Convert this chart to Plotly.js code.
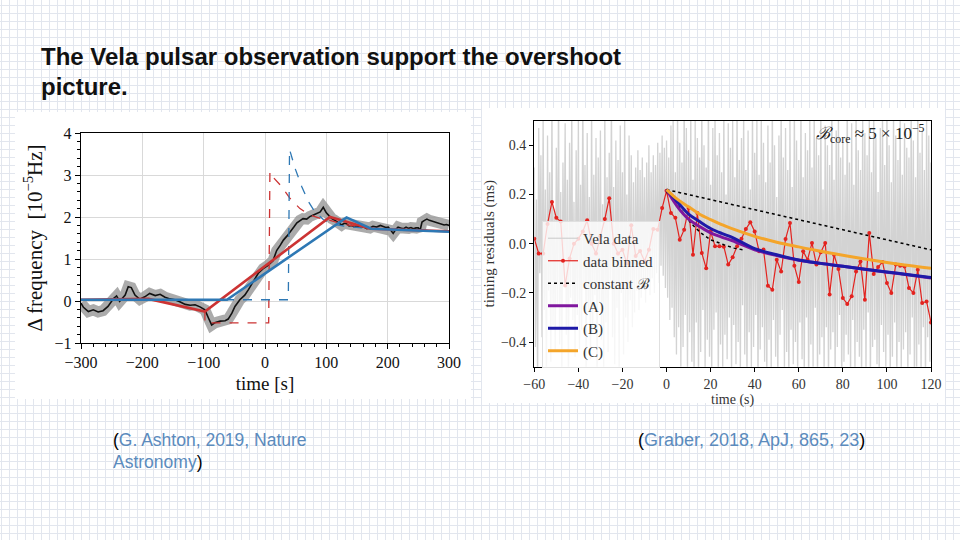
<!DOCTYPE html>
<html>
<head>
<meta charset="utf-8">
<script src="https://cdn.plot.ly/plotly-3.0.1.min.js"></script>
<style>
html, body { margin:0; padding:0; }
body {
  width:960px; height:540px; overflow:hidden;
  background-color:#ffffff;
  background-image: linear-gradient(to right, #e2e6ee 1px, transparent 1px),
                    linear-gradient(to bottom, #e2e6ee 1px, transparent 1px);
  background-size: 8px 8px;
  background-position: 1px 5px;
}
#chart { width:960px; height:540px; }
</style>
</head>
<body>
<div id="chart"></div>
<script>
// ---------- Left panel (Ashton 2019): Δ frequency vs time ----------
const ashtonTime = [
  -300,-296,-288,-280,-272,-264,-256,-247,-242,-237,
  -228,-223,-218,-212,-204,-196,-188,-179,-171,-163,
  -155,-147,-139,-130,-122,-114,-106,-98,-92,-87,
  -82,-73,-65,-60,-54,-49,-41,-33,-27,-19,
  -11,-3,5,13,19,25,30,36,41,47,
  52,57,62,68,73,79,84,90,95,100,
  105,109,113,117,121,125,129,133,137,141,
  145,150,155,160,166,171,176,182,188,193,
  197,201,205,209,213,217,221,226,230,234,
  238,242,246,250,253,256,260,264,268,272,
  276,280,284,288,292,296,300
];
const ashtonFreq = [
  -0.05,-0.15,-0.25,-0.21,-0.26,-0.23,-0.13,0.06,0.12,-0.01,
  0.14,0.34,0.32,0.14,0.04,0.10,0.18,0.13,0.16,0.09,
  0.05,0.03,-0.02,-0.08,-0.10,-0.09,-0.14,-0.21,-0.41,-0.57,
  -0.52,-0.48,-0.47,-0.43,-0.29,-0.13,0.03,0.14,0.27,0.48,
  0.66,0.77,0.85,0.96,1.20,1.33,1.45,1.55,1.66,1.76,
  1.86,1.92,1.96,1.95,2.01,2.05,2.09,2.12,2.23,2.10,
  2.02,1.96,1.93,1.89,1.84,1.81,1.85,1.84,1.79,1.80,
  1.77,1.79,1.76,1.77,1.72,1.74,1.78,1.76,1.80,1.78,
  1.75,1.76,1.68,1.61,1.70,1.76,1.74,1.72,1.76,1.73,
  1.75,1.72,1.74,1.74,1.69,1.88,1.92,1.95,1.92,1.90,
  1.88,1.87,1.85,1.83,1.81,1.82,1.80
];
const redFitTime = [-300,-190,-98,106,172,300];
const redFitFreq = [0.03,0.05,-0.25,2.0,1.72,1.66];
const blueFitTime = [-300,-62,133,173,300];
const blueFitFreq = [0.03,0.03,1.99,1.72,1.65];
const redDashTime = [-98,-98,6,8,13,25,41,57,73,90,106,130,171,220,300];
const redDashFreq = [-0.25,-0.52,-0.52,3.08,2.95,2.76,2.44,2.2,2.05,1.97,1.92,1.82,1.74,1.69,1.67];
const blueDashTime = [-300,38,40,49,60,71,81.5,95,111,133,171,220,300];
const blueDashFreq = [0.03,0.03,3.61,3.16,2.72,2.36,2.12,1.94,1.83,1.77,1.73,1.69,1.66];

// ---------- Right panel (Graber 2018): timing residuals ----------
const velaT0 = -60;      // first sample time (s)
const velaDt = 0.5;      // sample spacing (s)
const velaResid = [
  0.31,-0.42,0.18,-0.55,0.47,-0.12,0.36,-0.38,0.52,-0.27,0.22,-0.61,0.44,-0.19,0.29,-0.48,0.58,-0.33,0.14,-0.44,
  0.39,-0.25,0.62,-0.41,0.21,-0.53,0.33,-0.16,0.49,-0.37,0.26,-0.58,0.41,-0.22,0.55,-0.31,0.17,-0.46,0.38,-0.29,
  0.51,-0.43,0.24,-0.35,0.63,-0.18,0.32,-0.52,0.45,-0.28,0.19,-0.47,0.57,-0.36,0.28,-0.21,0.43,-0.59,0.35,-0.24,
  0.46,-0.39,0.16,-0.51,0.54,-0.32,0.27,-0.44,0.37,-0.15,0.6,-0.38,0.23,-0.49,0.42,-0.26,0.34,-0.57,0.48,-0.2,
  0.29,-0.45,0.53,-0.3,0.2,-0.4,0.44,-0.23,0.36,-0.34,0.25,-0.28,0.31,-0.19,0.38,-0.27,0.3,-0.22,0.35,-0.18,
  0.27,-0.24,0.33,-0.17,0.4,-0.21,0.29,-0.14,0.36,-0.2,0.32,-0.12,0.41,-0.16,0.37,-0.09,0.44,-0.13,0.39,-0.18,
  0.42,-0.22,0.35,-0.31,0.48,-0.26,0.52,-0.38,0.29,-0.45,0.56,-0.34,0.41,-0.5,0.33,-0.42,0.6,-0.29,0.47,-0.53,
  0.38,-0.36,0.55,-0.48,0.26,-0.57,0.5,-0.32,0.43,-0.61,0.35,-0.44,0.58,-0.27,0.4,-0.52,0.31,-0.39,0.62,-0.46,
  0.24,-0.55,0.47,-0.35,0.53,-0.28,0.36,-0.6,0.45,-0.41,0.29,-0.5,0.57,-0.37,0.2,-0.47,0.49,-0.3,0.39,-0.56,
  0.51,-0.33,0.27,-0.49,0.6,-0.4,0.34,-0.54,0.43,-0.25,0.55,-0.45,0.3,-0.58,0.46,-0.36,0.22,-0.51,0.59,-0.42,
  0.37,-0.29,0.5,-0.62,0.28,-0.43,0.54,-0.34,0.41,-0.48,0.25,-0.57,0.48,-0.39,0.33,-0.53,0.61,-0.31,0.4,-0.46,
  0.19,-0.59,0.44,-0.37,0.56,-0.27,0.35,-0.52,0.47,-0.44,0.3,-0.6,0.52,-0.35,0.23,-0.49,0.58,-0.4,0.42,-0.55,
  0.34,-0.32,0.6,-0.47,0.27,-0.56,0.45,-0.3,0.38,-0.63,0.5,-0.41,0.31,-0.5,0.55,-0.26,0.43,-0.58,0.36,-0.45,
  0.57,-0.38,0.22,-0.53,0.48,-0.34,0.4,-0.6,0.32,-0.43,0.59,-0.36,0.26,-0.55,0.46,-0.42,0.53,-0.29,0.35,-0.62,
  0.41,-0.48,0.28,-0.37,0.62,-0.45,0.33,-0.57,0.49,-0.31,0.24,-0.52,0.56,-0.4,0.38,-0.46,0.3,-0.59,0.52,-0.35,
  0.45,-0.54,0.36,-0.28,0.51,-0.61,0.29,-0.42,0.58,-0.39,0.43,-0.49,0.21,-0.56,0.47,-0.33,0.55,-0.44,0.32,-0.5,
  0.6,-0.37,0.4,-0.58,0.25,-0.46,0.53,-0.32,0.44,-0.6,0.34,-0.4,0.57,-0.52,0.28,-0.43,0.49,-0.36,0.39,-0.57,
  0.35,-0.45,0.54,-0.3,0.42,-0.62,0.27,-0.5,0.61,-0.41,0.37,-0.55,0.46,-0.34,0.3,-0.59,0.52,-0.38,0.44,-0.48,
  0.33
];
const binnedT0 = -60;
const binnedDt = 2;
const binnedResid = [
  0.02,-0.04,-0.04,0.08,0.17,0.105,0.09,-0.17,-0.06,0.0,
  0.02,0.05,0.095,0.0,-0.04,0.03,0.1,0.185,0.0,-0.04,
  -0.025,-0.08,0.075,-0.05,-0.03,-0.07,-0.025,0.06,0.057,0.145,
  0.215,0.125,0.105,0.016,0.057,0.145,-0.045,0.125,-0.038,-0.1,
  0.05,-0.01,-0.01,-0.012,-0.085,-0.055,-0.01,0.02,0.06,0.087,
  0.05,-0.031,-0.024,-0.171,-0.187,-0.065,-0.113,0.019,0.084,-0.09,
  -0.156,-0.031,-0.065,0.003,-0.085,-0.035,0.003,-0.207,-0.045,-0.103,
  -0.221,-0.245,-0.214,-0.113,-0.072,-0.228,0.044,-0.123,-0.095,-0.074,
  -0.16,-0.2,-0.085,-0.09,-0.093,-0.18,-0.2,-0.106,-0.241,-0.235,
  -0.32
];
const constBTime = [0,120];
const constBResid = [0.22,-0.025];
const constBEarlyTime = [0,3.4,7.2,11,15.5,20,26,30.6,35];
const constBEarlyResid = [0.21,0.18,0.13,0.084,0.044,0.016,-0.004,-0.018,-0.025];
const modelTime = [0,5,10,15,20,25,30,40,50,60,70,80,90,100,110,120];
const modelA = [0.22,0.15,0.10,0.07,0.044,0.027,0.012,-0.025,-0.048,-0.067,-0.08,-0.092,-0.104,-0.116,-0.127,-0.139];
const modelB = [0.22,0.17,0.12,0.09,0.062,0.042,0.025,-0.02,-0.045,-0.066,-0.08,-0.092,-0.104,-0.115,-0.126,-0.137];
const modelC = [0.22,0.18,0.15,0.12,0.098,0.078,0.06,0.03,0.006,-0.013,-0.031,-0.047,-0.062,-0.076,-0.089,-0.10];

const serif = 'Liberation Serif, DejaVu Serif, serif';
const sans = 'Liberation Sans, Arial, sans-serif';
const RED = '#cc3333', BLUE = '#2e78b4';

const traces = [
  // left panel
  {x: ashtonTime, y: ashtonFreq, xaxis:'x', yaxis:'y', mode:'lines', showlegend:false,
   line:{color:'rgba(150,150,150,0.8)', width:11}, hoverinfo:'skip'},
  {x: ashtonTime, y: ashtonFreq, xaxis:'x', yaxis:'y', mode:'lines', showlegend:false,
   line:{color:'#111111', width:1.6}},
  {x: redDashTime, y: redDashFreq, xaxis:'x', yaxis:'y', mode:'lines', showlegend:false,
   line:{color:RED, width:1.3, dash:'dash'}},
  {x: blueDashTime, y: blueDashFreq, xaxis:'x', yaxis:'y', mode:'lines', showlegend:false,
   line:{color:BLUE, width:1.3, dash:'dash'}},
  {x: redFitTime, y: redFitFreq, xaxis:'x', yaxis:'y', mode:'lines', showlegend:false,
   line:{color:RED, width:2.6}},
  {x: blueFitTime, y: blueFitFreq, xaxis:'x', yaxis:'y', mode:'lines', showlegend:false,
   line:{color:BLUE, width:2.6}},
  // right panel
  {x0: velaT0, dx: velaDt, y: velaResid, xaxis:'x2', yaxis:'y2', mode:'lines', name:'Vela data',
   line:{color:'#d3d3d3', width:1.3}},
  {x0: binnedT0, dx: binnedDt, y: binnedResid, xaxis:'x2', yaxis:'y2', mode:'lines+markers', name:'data binned',
   line:{color:'#e3231f', width:1.2}, marker:{color:'#e3231f', size:4}},
  {x: constBTime, y: constBResid, xaxis:'x2', yaxis:'y2', mode:'lines', name:'constant ℬ',
   line:{color:'#000000', width:1.5, dash:'dot'}},
  {x: constBEarlyTime, y: constBEarlyResid, xaxis:'x2', yaxis:'y2', mode:'lines', showlegend:false,
   line:{color:'#000000', width:1.5, dash:'dot'}},
  {x: modelTime, y: modelA, xaxis:'x2', yaxis:'y2', mode:'lines', name:'(A)',
   line:{color:'#80179e', width:3, shape:'spline'}},
  {x: modelTime, y: modelB, xaxis:'x2', yaxis:'y2', mode:'lines', name:'(B)',
   line:{color:'#1e1aa8', width:3, shape:'spline'}},
  {x: modelTime, y: modelC, xaxis:'x2', yaxis:'y2', mode:'lines', name:'(C)',
   line:{color:'#f4a52a', width:3, shape:'spline'}}
];

const px = v => v/960, py = v => 1 - v/540;

const layout = {
  width:960, height:540,
  margin:{l:0, r:0, t:0, b:0},
  paper_bgcolor:'rgba(0,0,0,0)',
  plot_bgcolor:'#ffffff',
  showlegend:true,
  xaxis:{domain:[px(81), px(449)], anchor:'y', range:[-300,300], dtick:100,
    showgrid:true, gridcolor:'#d9d9d9', gridwidth:1, zeroline:false,
    showline:true, mirror:true, linecolor:'#000', linewidth:1.2,
    ticks:'outside', ticklen:5, tickcolor:'#000',
    minor:{dtick:20, ticks:'outside', ticklen:3, tickcolor:'#000', showgrid:false},
    tickfont:{family:serif, size:16, color:'#111'},
    title:{text:'time [s]', font:{family:serif, size:19, color:'#111'}, standoff:6}},
  yaxis:{domain:[py(343), py(133)], anchor:'x', range:[-1,4], dtick:1,
    showgrid:true, gridcolor:'#d9d9d9', gridwidth:1, zeroline:false,
    showline:true, mirror:true, linecolor:'#000', linewidth:1.2,
    ticks:'outside', ticklen:5, tickcolor:'#000',
    minor:{dtick:0.2, ticks:'outside', ticklen:3, tickcolor:'#000', showgrid:false},
    tickfont:{family:serif, size:16, color:'#111'},
    title:{text:'Δ frequency  [10<sup>−5</sup>Hz]', font:{family:serif, size:21, color:'#111'}, standoff:6}},
  xaxis2:{domain:[px(534.3), px(931)], anchor:'y2', range:[-60,120], dtick:20,
    showgrid:false, zeroline:false,
    showline:true, mirror:true, linecolor:'#000', linewidth:1.2,
    ticks:'outside', ticklen:4, tickcolor:'#000',
    tickfont:{family:serif, size:14, color:'#333'},
    title:{text:'time (s)', font:{family:serif, size:14, color:'#333'}, standoff:2}},
  yaxis2:{domain:[py(366.7), py(120.7)], anchor:'x2', range:[-0.5,0.5],
    tickvals:[-0.4,-0.2,0,0.2,0.4], tickformat:'.1f',
    showgrid:false, zeroline:false,
    showline:true, mirror:true, linecolor:'#000', linewidth:1.2,
    ticks:'outside', ticklen:4, tickcolor:'#000',
    tickfont:{family:serif, size:14, color:'#333'},
    title:{text:'timing residuals (ms)', font:{family:serif, size:15, color:'#333'}, standoff:2}},
  legend:{x:px(542), y:py(221), xanchor:'left', yanchor:'top',
    bgcolor:'rgba(255,255,255,0.8)', bordercolor:'#e0e0e0', borderwidth:1,
    font:{family:serif, size:15, color:'#333'}, tracegroupgap:0, itemwidth:30},
  shapes:[
    {type:'rect', xref:'paper', yref:'paper', x0:px(15), x1:px(471), y0:py(399), y1:py(112),
     fillcolor:'#ffffff', line:{width:0}, layer:'below'},
    {type:'rect', xref:'paper', yref:'paper', x0:px(482), x1:px(945), y0:py(403), y1:py(108),
     fillcolor:'#ffffff', line:{width:0}, layer:'below'}
  ],
  annotations:[
    {xref:'paper', yref:'paper', x:px(39), y:py(57), xanchor:'left', yanchor:'middle', showarrow:false,
     text:'<b>The Vela pulsar observation support the overshoot</b>', font:{family:sans, size:24, color:'#111'}},
    {xref:'paper', yref:'paper', x:px(39), y:py(87), xanchor:'left', yanchor:'middle', showarrow:false,
     text:'<b>picture.</b>', font:{family:sans, size:24, color:'#111'}},
    {xref:'paper', yref:'paper', x:px(111), y:py(440), xanchor:'left', yanchor:'middle', showarrow:false,
     text:'<span style="color:#000">(</span>G. Ashton, 2019, Nature', font:{family:sans, size:17.5, color:'#5b8bbd'}},
    {xref:'paper', yref:'paper', x:px(111), y:py(462), xanchor:'left', yanchor:'middle', showarrow:false,
     text:'Astronomy<span style="color:#000">)</span>', font:{family:sans, size:17.5, color:'#5b8bbd'}},
    {xref:'paper', yref:'paper', x:px(636), y:py(440), xanchor:'left', yanchor:'middle', showarrow:false,
     text:'<span style="color:#000">(</span>Graber, 2018, ApJ, 865, 23<span style="color:#000">)</span>', font:{family:sans, size:18, color:'#5b8bbd'}},
    {xref:'paper', yref:'paper', x:px(927), y:py(134), xanchor:'right', yanchor:'middle', showarrow:false,
     text:'<i>ℬ</i><sub>core</sub> ≈ 5 × 10<sup>−5</sup>', font:{family:serif, size:17, color:'#222'}}
  ]
};

Plotly.newPlot('chart', traces, layout, {staticPlot:true, displayModeBar:false});
</script>
</body>
</html>
